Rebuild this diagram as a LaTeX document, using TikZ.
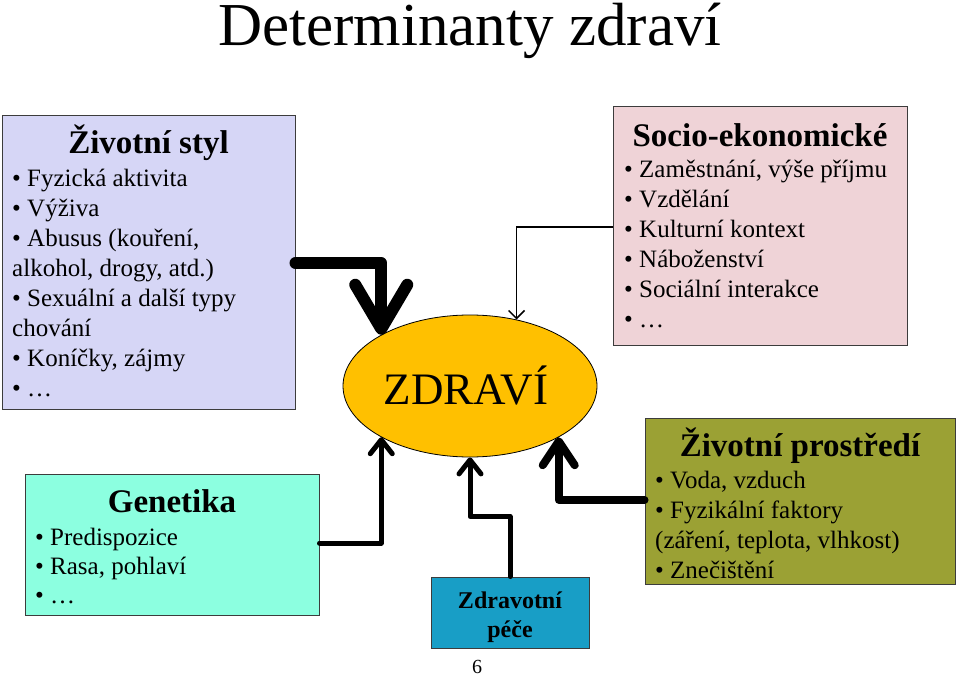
\documentclass[tikz,border=0pt]{standalone}
\usepackage{fontspec}
\setmainfont{Liberation Serif}
\usetikzlibrary{shapes.geometric,arrows.meta}
\definecolor{lav}{RGB}{214,214,246}
\definecolor{aqua}{RGB}{140,255,224}
\definecolor{gold}{RGB}{255,192,0}
\definecolor{teal}{RGB}{24,158,198}
\definecolor{pinkish}{RGB}{239,211,215}
\definecolor{olive}{RGB}{155,161,52}
\definecolor{edge}{RGB}{60,60,60}
\tikzset{
  box/.style={draw=edge, line width=1pt, inner sep=0pt},
  heading/.style={anchor=base, inner sep=0pt, font=\fontsize{33}{36}\selectfont\bfseries},
  items/.style={anchor=base west, inner sep=0pt, align=left, font=\fontsize{25}{30}\selectfont},
  link/.style={line cap=round, line join=round},
}
\begin{document}
\begin{tikzpicture}[x=1pt,y=-1pt]
\useasboundingbox (0,0) rectangle (959,676);
% title
\node[anchor=base, inner sep=0pt, font=\fontsize{61}{66}\selectfont] (title) at (470,46) {Determinanty zdraví};
% boxes
\node[box, fill=lav, minimum width=293pt, minimum height=293pt] (styl) at (148.5,262.5) {};
\node[box, fill=aqua, minimum width=294pt, minimum height=141pt] (gen) at (172,544.5) {};
\node[box, fill=teal, minimum width=158pt, minimum height=71pt] (pece) at (510,612.5) {};
\node[box, fill=pinkish, minimum width=294pt, minimum height=239pt] (socio) at (760,226.5) {};
\node[box, fill=olive, minimum width=310pt, minimum height=166pt] (prostr) at (800,501) {};
\node[ellipse, draw=black, line width=0.8pt, fill=gold, minimum width=254pt, minimum height=142pt, inner sep=0pt] (zdravi) at (470,386) {};
% texts (base anchor = baseline of the last line)
\node[heading] (stylT) at (148.5,154) {Životní styl};
\node[items] (stylI) at (12,396) {• Fyzická aktivita\\• Výživa\\• Abusus (kouření,\\alkohol, drogy, atd.)\\• Sexuální a další typy\\chování\\• Koníčky, zájmy\\• …};
\node[heading] (genT) at (172,512) {Genetika};
\node[items, font=\fontsize{25}{29}\selectfont] (genI) at (35,603) {• Predispozice\\• Rasa, pohlaví\\• …};
\node[anchor=base, inner sep=0pt, align=center, font=\fontsize{24}{29}\selectfont\bfseries] (peceT) at (510,637) {Zdravotní\\péče};
\node[heading] (socioT) at (760,147) {Socio-ekonomické};
\node[items] (socioI) at (624,328) {• Zaměstnání, výše příjmu\\• Vzdělání\\• Kulturní kontext\\• Náboženství\\• Sociální interakce\\• …};
\node[heading] (prostrT) at (800,456) {Životní prostředí};
\node[items] (prostrI) at (655,578) {• Voda, vzduch\\• Fyzikální faktory\\(záření, teplota, vlhkost)\\• Znečištění};
\node[inner sep=0pt, font=\fontsize{20}{24}\selectfont] (num) at (477,667) {6};
\node[anchor=base, inner sep=0pt, font=\fontsize{45}{50}\selectfont] (zdraviT) at (466,404) {ZDRAVÍ};
% connectors
\draw[link, line width=12pt, -{Straight Barb[length=44pt, width=52pt, line cap=round, round]}]
  (styl.east |- 0,263) -| (zdravi.150);
\draw[link, line width=5pt, -{Straight Barb[length=14pt, width=22pt, round]}]
  (gen.east |- 0,543) -| (zdravi.210);
\draw[link, line width=5pt, -{Straight Barb[length=14pt, width=22pt, round]}]
  (pece.north) -- ++(0,-60) -| (zdravi.south);
\draw[line width=1.5pt, -{Straight Barb[length=8pt, width=16pt]}]
  (socio.west |- 0,227) -| (zdravi.55);
\draw[link, line width=8pt, -{Straight Barb[length=24pt, width=32pt, round]}]
  (prostr.west |- 0,500) -| (zdravi.330);
\end{tikzpicture}
\end{document}
